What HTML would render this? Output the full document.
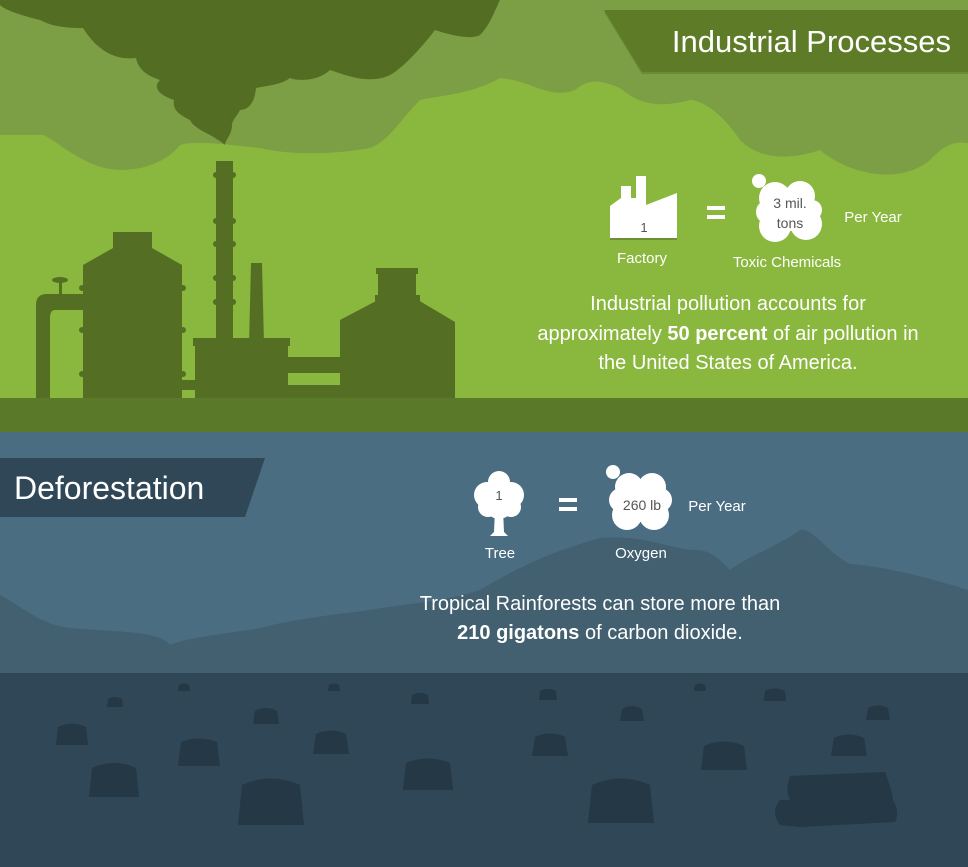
<!DOCTYPE html>
<html><head><meta charset="utf-8"><style>
html,body{margin:0;padding:0;width:968px;height:867px;overflow:hidden;background:#8ab73d}
svg{display:block}
text{font-family:"Liberation Sans",sans-serif}
</style></head><body>
<svg width="968" height="867" viewBox="0 0 968 867" xmlns="http://www.w3.org/2000/svg">
<rect x="0" y="0" width="968" height="432" fill="#8ab73d"/>
<path fill="#7c9e45" d="M0,0 H968 V143 C950,140 940,150 930,160 C900,185 850,175 820,150 C790,160 760,160 740,140 C720,110 700,100 690,100 C660,108 640,105 620,88 C600,80 590,78 575,90 C550,100 530,80 500,78 C470,95 440,95 420,100 C400,120 390,140 370,148 C330,155 290,155 260,148 C230,145 195,140 180,145 C160,170 120,175 95,165 C70,155 55,140 43,135 L0,135 Z"/>
<path fill="#536d23" d="M0,0 H500 C495,10 490,25 480,35 C470,40 450,35 435,30 C420,50 400,70 390,75 C370,85 345,75 330,70 C320,80 300,82 290,78 C280,85 270,85 256,88 C255,100 250,110 240,110 C238,115 232,120 232,125 C232,135 225,140 225,145 C222,142 215,138 210,135 C200,130 192,125 190,120 C180,115 172,110 174,100 C160,95 152,88 160,80 C145,75 138,68 136,58 C120,60 100,55 83,28 C60,28 50,25 40,20 C20,15 5,10 0,5 Z"/>
<polygon points="604,12 968,12 968,74 642,74" fill="#4d6620" opacity="0.35"/>
<polygon points="604,10 968,10 968,72 642,72" fill="#5e7b27"/>
<text x="951" y="52" fill="#fff" font-size="31" text-anchor="end">Industrial Processes</text>

<g fill="#546e24">
<rect x="216" y="161" width="17" height="190"/>
<g><circle cx="216" cy="175" r="3"/><circle cx="233" cy="175" r="3"/><circle cx="216" cy="221" r="3"/><circle cx="233" cy="221" r="3"/><circle cx="216" cy="244" r="3"/><circle cx="233" cy="244" r="3"/><circle cx="216" cy="278" r="3"/><circle cx="233" cy="278" r="3"/><circle cx="216" cy="302" r="3"/><circle cx="233" cy="302" r="3"/></g>
<polygon points="251,263 262,263 264,345 249,345"/>
<rect x="193" y="338" width="97" height="8"/>
<rect x="195" y="344" width="93" height="56"/>
<rect x="113" y="232" width="39" height="20"/>
<polygon points="83,265 113,248 152,248 182,265 182,400 83,400"/>
<circle cx="82" cy="288" r="3"/><circle cx="183" cy="288" r="3"/><circle cx="82" cy="330" r="3"/><circle cx="183" cy="330" r="3"/><circle cx="82" cy="374" r="3"/><circle cx="183" cy="374" r="3"/>
<rect x="182" y="380" width="14" height="10"/>
<path d="M36,400 V305 Q36,294 47,294 H83 V310 H55 Q50,310 50,318 V400 Z"/>
<rect x="59" y="280" width="3" height="14"/>
<ellipse cx="60" cy="280" rx="8" ry="3"/>
<rect x="288" y="357" width="54" height="16"/>
<rect x="288" y="385" width="54" height="15"/>
<rect x="376" y="268" width="42" height="6"/>
<rect x="378" y="272" width="38" height="28"/>
<rect x="375" y="295" width="45" height="6"/>
<polygon points="340,320 378,300 418,300 455,322 455,400 340,400"/>
</g>
<rect x="0" y="398" width="968" height="34" fill="#5a7a2a"/>

<polygon fill="#fff" points="610,238 610,206 621,198 621,186 631,186 631,198 636,198 636,176 646,176 646,205 677,193 677,238"/>
<rect x="610" y="238" width="67" height="2" fill="#6f8f36"/>
<text x="644" y="232" fill="#555" font-size="13" text-anchor="middle">1</text>
<text x="642" y="263" fill="#fff" font-size="15" text-anchor="middle">Factory</text>
<rect x="707" y="206" width="18" height="4" fill="#fff"/><rect x="707" y="215" width="18" height="4" fill="#fff"/>
<g fill="#fff">
<circle cx="759" cy="181" r="7"/>
<circle cx="775" cy="198" r="16"/><circle cx="800" cy="196" r="15"/><circle cx="806" cy="224" r="16"/><circle cx="775" cy="226" r="16"/><circle cx="790" cy="211" r="20"/><circle cx="768" cy="212" r="12"/><circle cx="812" cy="210" r="10"/>
</g>
<text x="790" y="208" fill="#555" font-size="14" text-anchor="middle">3 mil.</text>
<text x="790" y="228" fill="#555" font-size="14" text-anchor="middle">tons</text>
<text x="787" y="267" fill="#fff" font-size="15" text-anchor="middle">Toxic Chemicals</text>
<text x="873" y="222" fill="#fff" font-size="15" text-anchor="middle">Per Year</text>
<g fill="#fff" font-size="20" text-anchor="middle">
<text x="728" y="310">Industrial pollution accounts for</text>
<text x="728" y="340">approximately <tspan font-weight="bold">50 percent</tspan> of air pollution in</text>
<text x="728" y="369">the United States of America.</text>
</g>

<rect x="0" y="432" width="968" height="242" fill="#4a6d81"/>
<path fill="#42606f" d="M0,595 C20,605 40,625 70,628 C110,632 160,630 170,645 C185,638 230,633 260,628 C290,620 330,615 370,610 C400,604 440,603 480,590 C530,560 560,550 600,538 C640,535 660,545 690,550 C710,548 720,560 730,570 C750,555 780,545 800,530 C812,527 830,555 850,564 C880,566 920,575 968,590 V674 H0 Z"/>
<rect x="0" y="673" width="968" height="194" fill="#2f4756"/>
<polygon points="0,458 265,458 245,517 0,517" fill="#2f4756"/>
<text x="14" y="499" fill="#fff" font-size="32">Deforestation</text>

<g fill="#fff">
<circle cx="499" cy="482" r="11"/><circle cx="487" cy="495" r="13"/><circle cx="511" cy="495" r="13"/><circle cx="499" cy="505" r="14"/><circle cx="488" cy="507" r="10"/><circle cx="511" cy="507" r="10"/>
<polygon points="495,510 503,510 504,532 508,536 490,536 494,532"/>
</g>
<text x="499" y="500" fill="#555" font-size="13" text-anchor="middle">1</text>
<text x="500" y="558" fill="#fff" font-size="15" text-anchor="middle">Tree</text>
<rect x="559" y="498" width="18" height="4" fill="#fff"/><rect x="559" y="507" width="18" height="4" fill="#fff"/>
<g fill="#fff">
<circle cx="613" cy="472" r="7"/>
<circle cx="629" cy="487" r="14"/><circle cx="652" cy="487" r="14"/><circle cx="627" cy="515" r="15"/><circle cx="654" cy="515" r="15"/><circle cx="640" cy="502" r="20"/><circle cx="621" cy="500" r="12"/><circle cx="660" cy="500" r="12"/>
</g>
<text x="642" y="510" fill="#555" font-size="14" text-anchor="middle">260 lb</text>
<text x="641" y="558" fill="#fff" font-size="15" text-anchor="middle">Oxygen</text>
<text x="717" y="511" fill="#fff" font-size="15" text-anchor="middle">Per Year</text>
<g fill="#fff" font-size="20" text-anchor="middle">
<text x="600" y="610">Tropical Rainforests can store more than</text>
<text x="600" y="639"><tspan font-weight="bold">210 gigatons</tspan> of carbon dioxide.</text>
</g>

<g fill="#243846">
<path d="M107,707 L108,699 Q115,695 122,699 L123,707 Z"/>
<path d="M178,691 L179,685 Q184,682 189,685 L190,691 Z"/>
<path d="M328,691 L329,685 Q334,682 339,685 L340,691 Z"/>
<path d="M253,724 L255,711 Q266,705 277,711 L279,724 Z"/>
<path d="M56,745 L58,727 Q72,720 86,727 L88,745 Z"/>
<path d="M178,766 L181,742 Q199,735 217,742 L220,766 Z"/>
<path d="M89,797 L92,768 Q114,758 136,768 L139,797 Z"/>
<path d="M238,825 L242,785 Q271,772 300,785 L304,825 Z"/>
<path d="M313,754 L316,734 Q331,727 346,734 L349,754 Z"/>
<path d="M411,704 L412,695 Q420,691 428,695 L429,704 Z"/>
<path d="M403,790 L406,763 Q428,754 450,763 L453,790 Z"/>
<path d="M539,700 L540,691 Q548,687 556,691 L557,700 Z"/>
<path d="M532,756 L535,737 Q550,730 565,737 L568,756 Z"/>
<path d="M620,721 L622,709 Q632,703 642,709 L644,721 Z"/>
<path d="M588,823 L592,785 Q621,772 650,785 L654,823 Z"/>
<path d="M694,691 L695,685 Q700,682 705,685 L706,691 Z"/>
<path d="M701,770 L704,746 Q724,737 744,746 L747,770 Z"/>
<path d="M764,701 L765,691 Q775,686 785,691 L786,701 Z"/>
<path d="M831,756 L834,738 Q849,731 864,738 L867,756 Z"/>
<path d="M866,720 L868,708 Q878,703 888,708 L890,720 Z"/>
<path d="M790,776 Q785,790 790,800 L780,800 Q770,812 780,825 L800,827 L895,822 Q900,812 893,800 Q892,790 885,772 Z"/>
</g>
</svg>
</body></html>
